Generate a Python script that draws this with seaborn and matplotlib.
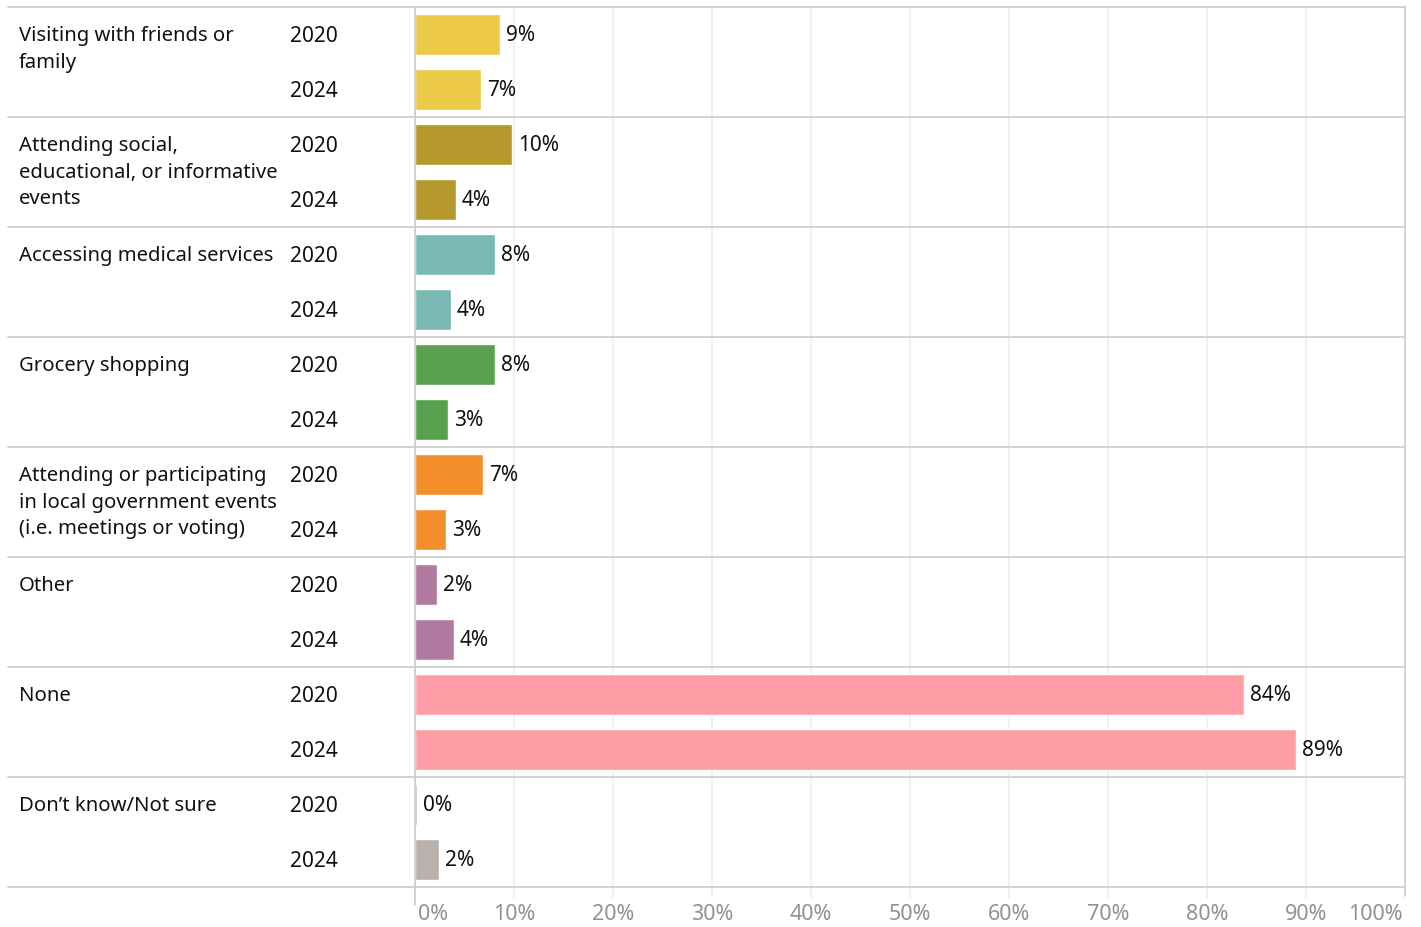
import textwrap

import matplotlib
matplotlib.use("Agg")
import matplotlib.pyplot as plt
from matplotlib.lines import Line2D
from matplotlib.transforms import blended_transform_factory
import pandas as pd
import seaborn as sns

# Share of respondents, by activity and survey year (%)
categories = [
    "Visiting with friends or family",
    "Attending social, educational, or informative events",
    "Accessing medical services",
    "Grocery shopping",
    "Attending or participating in local government events (i.e. meetings or voting)",
    "Other",
    "None",
    "Don\u2019t know/Not sure",
]
years = ["2020", "2024"]
values_2020 = [8.6, 9.8, 8.1, 8.1, 6.9, 2.2, 83.7, 0.2]
values_2024 = [6.7, 4.1, 3.6, 3.3, 3.1, 3.9, 89.0, 2.4]
colors = ["#EDC948", "#B6992D", "#79B8B3", "#59A14F", "#F28E2B",
          "#B07AA1", "#FF9DA7", "#BAB0AC"]
tick_values = [0, 10, 20, 30, 40, 50, 60, 70, 80, 90, 100]

rows = []
for cat, v20, v24 in zip(categories, values_2020, values_2024):
    rows.append({"category": cat, "year": years[0], "value": v20, "row": cat + "|2020"})
    rows.append({"category": cat, "year": years[1], "value": v24, "row": cat + "|2024"})
df = pd.DataFrame(rows)

sns.set_theme(style="white")
plt.rcParams["font.family"] = ["Noto Sans", "DejaVu Sans"]

W, H = 1421, 927
fig = plt.figure(figsize=(W / 100, H / 100), dpi=100)
ax_left, ax_right, ax_top, ax_bottom = 415, 1405, 7, 887
ax = fig.add_axes([ax_left / W, 1 - ax_bottom / H,
                   (ax_right - ax_left) / W, (ax_bottom - ax_top) / H])

sns.barplot(data=df, x="value", y="row", hue="category", palette=colors,
            hue_order=categories, order=list(df["row"]), dodge=False,
            width=0.745, saturation=1, legend=False, ax=ax)

n_rows = len(df)
ax.set_xlim(0, 100)
ax.set_ylim(n_rows - 0.5, -0.5)
ax.set_xlabel("")
ax.set_ylabel("")
ax.set_yticks([])

# grid and axis styling
grid_c = "#EEEEEE"
line_c = "#CFCFCF"
ax.set_xticks(tick_values)
ax.set_xticklabels([])
for t in tick_values[1:-1]:
    ax.axvline(t, color=grid_c, lw=1.2, zorder=0)
ax.tick_params(axis="x", length=8, width=1.2, color=grid_c, direction="out",
               bottom=True, pad=0)
for side in ["top", "bottom", "left"]:
    ax.spines[side].set_visible(False)
ax.spines["right"].set_color(line_c)
ax.spines["right"].set_linewidth(1.3)
ax.axvline(0, color=line_c, lw=1.3, zorder=3)
ax.add_line(Line2D([0, 0], [1, -0.02], transform=ax.transAxes, color=line_c,
                   lw=1.3, clip_on=False))
ax.add_line(Line2D([1, 1], [0, -0.009], transform=ax.transAxes, color=line_c,
                   lw=1.3, clip_on=False))

# tick labels
tick_kw = dict(fontsize=15.5, color="#929292", va="center",
               transform=blended_transform_factory(ax.transData, fig.transFigure))
tick_y = 1 - 914 / H
for t in tick_values:
    ha = "center"
    x = t
    if t == 0:
        ha, x = "left", 0.3
    elif t == 100:
        ha, x = "right", 99.8
    ax.text(x, tick_y, f"{t}%", ha=ha, **tick_kw)

# group separators spanning the label columns
sep_tr = blended_transform_factory(fig.transFigure, ax.transData)
for g in range(len(categories) + 1):
    y = 2 * g - 0.5
    fig.add_artist(Line2D([8 / W, ax_right / W], [y, y], transform=sep_tr,
                          color=line_c, lw=1.3))

# row labels and value labels
fs = 15
label_kw = dict(color="#111111", transform=sep_tr)
for i, r in df.iterrows():
    ax.text(290 / W, i + 0.04, r["year"], ha="left", va="center",
            fontsize=fs, **label_kw)
    ax.text(r["value"] + 0.6, i + 0.02, f"{r['value']:.0f}%", ha="left",
            va="center", fontsize=fs, color="#111111")
for g, cat in enumerate(categories):
    wrapped = "\n".join(textwrap.wrap(cat, 27))
    ax.text(19 / W, 2 * g - 0.15, wrapped, ha="left", va="top",
            linespacing=1.42, fontsize=14.6, **label_kw)

fig.savefig("out.png", dpi=100, facecolor="white")
